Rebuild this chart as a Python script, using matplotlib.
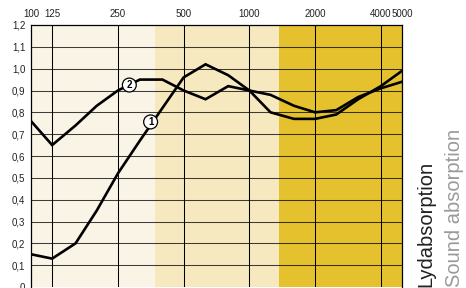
import numpy as np
import matplotlib
matplotlib.use("Agg")
import matplotlib.pyplot as plt

plt.rcParams['font.family'] = ['Liberation Sans', 'DejaVu Sans']

# 1/3 octave band centre frequencies (Hz)
freqs = [100, 125, 160, 200, 250, 315, 400, 500, 630, 800, 1000,
         1250, 1600, 2000, 2500, 3150, 4000, 5000]
curve_1 = [0.15, 0.13, 0.20, 0.35, 0.52, 0.67, 0.82, 0.96, 1.02, 0.97, 0.90,
           0.80, 0.77, 0.77, 0.79, 0.86, 0.92, 0.99]
curve_2 = [0.76, 0.65, 0.74, 0.83, 0.90, 0.95, 0.95, 0.90, 0.86, 0.92, 0.90,
           0.88, 0.83, 0.80, 0.81, 0.87, 0.91, 0.94]

x_ticks = [100, 125, 250, 500, 1000, 2000, 4000, 5000]
y_ticks = [0, 0.1, 0.2, 0.3, 0.4, 0.5, 0.6, 0.7, 0.8, 0.9, 1.0, 1.1, 1.2]
bands = [(100, 370, "#f9f4e6"), (370, 1360, "#f6e9c0"), (1360, 5000, "#e5c22d")]
labels = [("2", 282, 0.925), ("1", 353, 0.756)]

fig = plt.figure(figsize=(4.66, 2.88), dpi=100)
ax = fig.add_axes([31/466, 1/288, (402-31)/466, (287-25)/288])

for lo, hi, col in bands:
    ax.axvspan(lo, hi, color=col, lw=0, zorder=0)

ax.set_xscale("log")
ax.set_xlim(100, 5000)
ax.set_ylim(0, 1.2)

for f in [125, 250, 500, 1000, 2000, 4000]:
    ax.axvline(f, color="black", lw=0.75, zorder=1)
for v in y_ticks[1:-1]:
    ax.axhline(v, color="black", lw=0.75, alpha=0.75, zorder=1)

ax.plot(freqs, curve_1, color="black", lw=1.9, zorder=3, solid_joinstyle="miter")
ax.plot(freqs, curve_2, color="black", lw=1.9, zorder=3, solid_joinstyle="miter")

for txt, fx, fy in labels:
    ax.text(fx, fy, txt, ha="center", va="center", fontsize=7, fontweight="bold",
            zorder=4,
            bbox=dict(boxstyle="circle,pad=0.2", fc="white", ec="black", lw=0.9))

ax.xaxis.tick_top()
ax.set_xticks(x_ticks)
ax.set_xticklabels([str(t) for t in x_ticks])
ax.xaxis.set_minor_locator(matplotlib.ticker.NullLocator())
ax.set_yticks(y_ticks)
ax.set_yticklabels([("%.1f" % t).replace(".", ",") if t else "0" for t in y_ticks])
ax.tick_params(axis="both", length=0, labelsize=7, pad=4, colors="#222222")
ax.tick_params(axis="x", pad=4)

for s in ["left", "right", "top"]:
    ax.spines[s].set_color("black")
    ax.spines[s].set_linewidth(0.9)
ax.spines["bottom"].set_visible(False)

fig.text(426/466, 1/288, "Lydabsorption", rotation=90, ha="center", va="bottom",
         fontsize=14.5, color="#222222")
fig.text(455/466, 1/288, "Sound absorption", rotation=90, ha="center", va="bottom",
         fontsize=14.5, color="#9a9a9a")

fig.savefig("out.png", dpi=100)
